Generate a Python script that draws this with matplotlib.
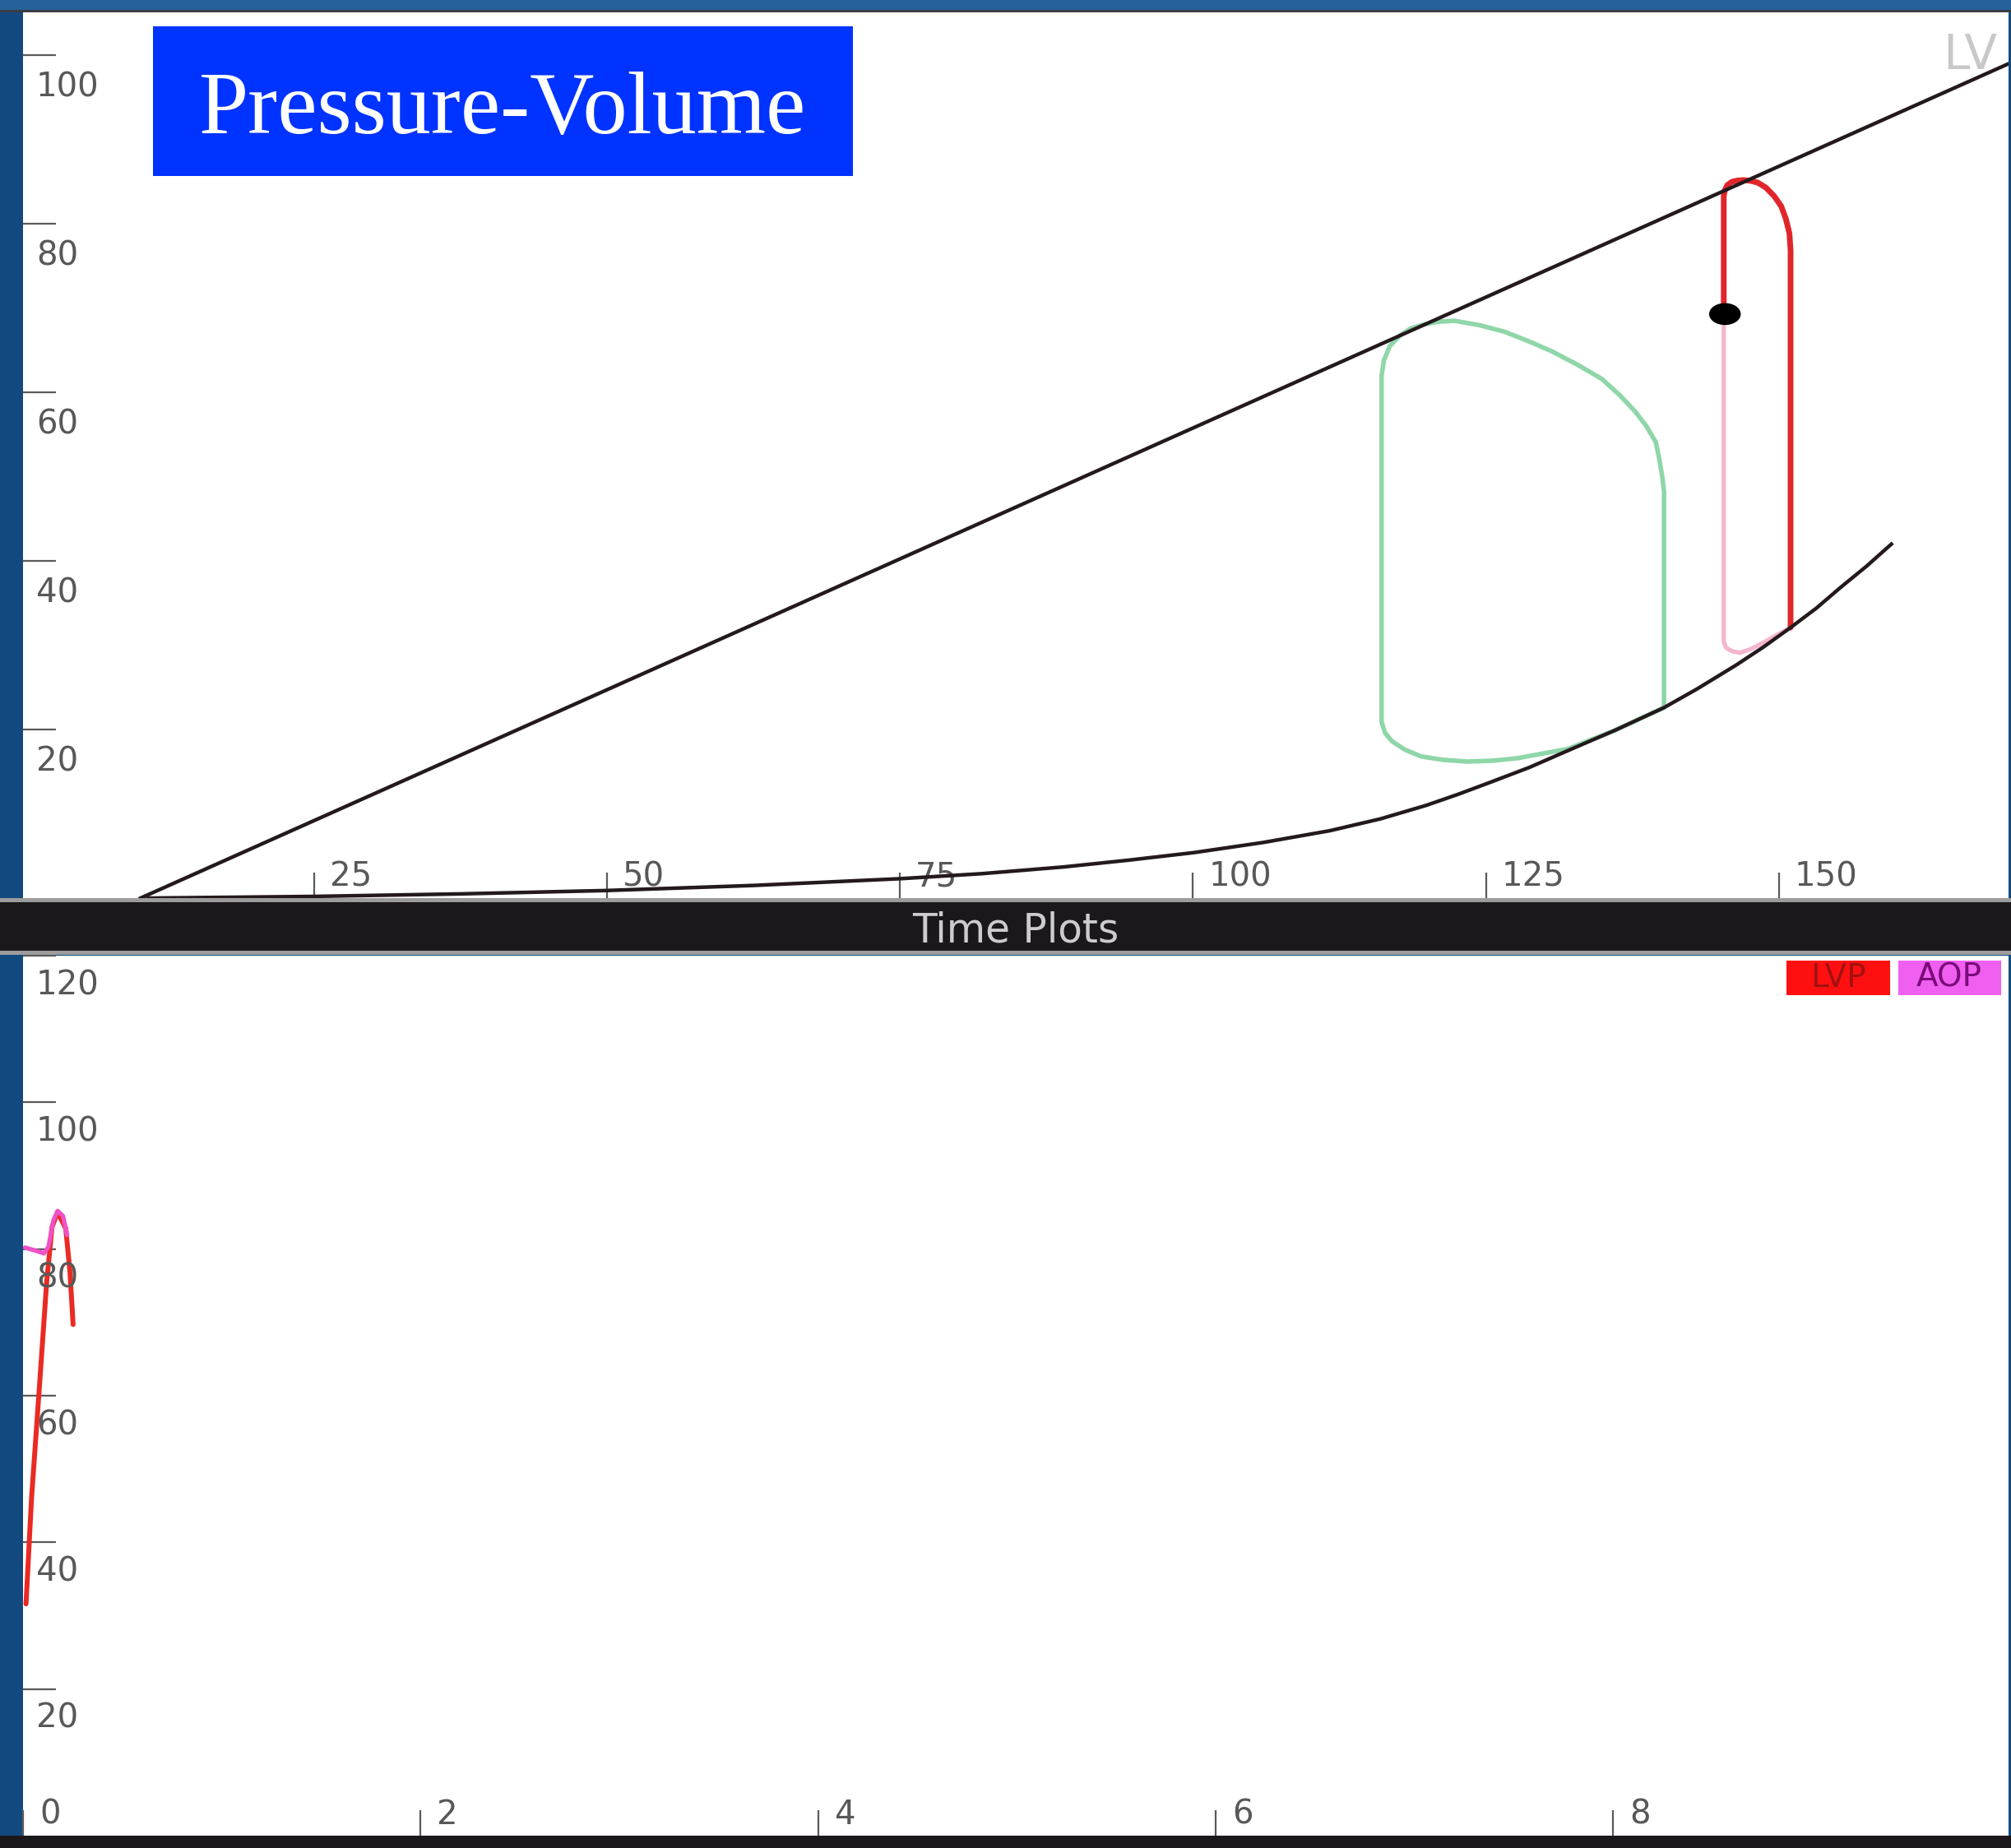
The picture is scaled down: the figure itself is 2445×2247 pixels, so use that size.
import matplotlib.pyplot as plt
from matplotlib.patches import Rectangle, Ellipse
from matplotlib.transforms import offset_copy

W, H, DPI = 2445, 2247, 100

# ---------------------------------------------------------------
# data
# ---------------------------------------------------------------
# pressure-volume loop panel (volume on x, pressure on y)
espvr_v = [10.2, 169.6]
espvr_p = [0.0, 99.0]

edpvr_v = [10.8, 18, 25, 37.5, 50, 62.5, 75, 82, 89, 94.5, 100.1, 106, 111.7,
           116, 119.9, 122.6, 125.3, 128.7, 132.0, 136.0, 140.2, 143.0, 146.3,
           148.7, 151.0, 153.2, 155.3, 157.5, 159.6]
edpvr_p = [0.0, 0.1, 0.2, 0.5, 0.9, 1.5, 2.3, 2.9, 3.7, 4.5, 5.4, 6.6, 8.0,
           9.4, 11.0, 12.3, 13.7, 15.5, 17.5, 19.9, 22.6, 24.8, 27.6,
           29.8, 32.1, 34.4, 36.9, 39.4, 42.0]

# previous steady-state loop (green)
green_v = [140.2, 140.2, 140.2, 140.05, 139.8, 139.5, 138.7, 137.7, 136.4, 134.9,
           132.8, 130.6, 128.6, 126.6, 124.4, 122.3, 121.0, 119.8, 118.6, 117.7,
           116.8, 116.3, 116.1, 116.1, 116.1, 116.4, 117.0, 118.1, 119.5, 121.4,
           123.4, 125.6, 127.7, 132.0, 136.0, 140.2]
green_p = [22.6, 46.3, 48.3, 50.0, 52.1, 54.1, 56.0, 57.8, 59.7, 61.6,
           63.3, 64.9, 66.1, 67.2, 68.0, 68.5, 68.4, 68.1, 67.6, 66.8,
           65.5, 63.8, 62.0, 60.0, 20.9, 19.6, 18.6, 17.6, 16.8, 16.4,
           16.2, 16.3, 16.6, 17.7, 19.9, 22.6]

# current beat (red) and the older part of the trace (pink)
red_v = [151.0, 151.0, 150.9, 150.6, 150.2, 149.6, 148.9, 148.2, 147.6, 147.0,
         146.5, 146.0, 145.6, 145.4, 145.3, 145.3]
red_p = [32.1, 76.9, 78.9, 80.6, 82.1, 83.3, 84.3, 84.9, 85.1, 85.2,
         85.15, 85.0, 84.6, 84.0, 83.3, 69.3]
pink_v = [145.3, 145.3, 145.5, 146.0, 146.7, 147.7, 148.8, 149.8, 150.9]
pink_p = [69.3, 30.4, 29.7, 29.3, 29.1, 29.6, 30.4, 31.2, 32.0]

dot_v, dot_p = 145.4, 69.3

pv_xlim = (0.17, 169.6)
pv_ylim = (0.0, 105.1)
pv_xticks = [25, 50, 75, 100, 125, 150]
pv_yticks = [20, 40, 60, 80, 100]

# time plot panel
lvp_t = [0.015, 0.043, 0.084, 0.119, 0.146, 0.174, 0.215, 0.236, 0.252]
lvp_p = [31.6, 46.1, 61.8, 75.5, 83.0, 85.0, 82.8, 76.9, 69.7]
aop_t = [0.010, 0.06, 0.105, 0.128, 0.153, 0.174, 0.201, 0.222]
aop_p = [80.2, 79.8, 79.4, 80.3, 83.9, 85.2, 84.5, 81.9]

tp_xlim = (0.007, 9.99)
tp_ylim = (0.0, 120.0)
tp_xticks = [0, 2, 4, 6, 8]
tp_yticks = [20, 40, 60, 80, 100, 120]


# ---------------------------------------------------------------
# helpers (pixel -> figure fraction)
# ---------------------------------------------------------------
def fx(px):
    return px / W


def fy(py):
    return 1 - py / H


def box(fig, x0, y0, x1, y1, color, z=0):
    fig.patches.append(Rectangle((fx(x0), fy(y1)), fx(x1) - fx(x0), fy(y0) - fy(y1),
                                 transform=fig.transFigure, facecolor=color,
                                 edgecolor='none', zorder=z))


TICK_COLOR = '#5a5a5a'
LABEL_KW = dict(fontsize=29, color='#585858', family='DejaVu Sans')


def style_axis(ax, fig, xticks, yticks, xlen, ylen, xl_off, yl_off):
    for s in ax.spines.values():
        s.set_visible(False)
    ax.set_xticks(xticks)
    ax.set_yticks(yticks)
    ax.tick_params(axis='x', direction='in', length=xlen, width=1.6, color=TICK_COLOR,
                   labelbottom=False)
    ax.tick_params(axis='y', direction='in', length=ylen, width=1.6, color=TICK_COLOR,
                   labelleft=False)
    xt = offset_copy(ax.get_xaxis_transform(), fig=fig, x=xl_off[0], y=xl_off[1], units='dots')
    for v in xticks:
        ax.text(v, 0, str(v), transform=xt, ha='left', va='baseline', **LABEL_KW)
    yt = offset_copy(ax.get_yaxis_transform(), fig=fig, x=yl_off[0], y=yl_off[1], units='dots')
    for v in yticks:
        ax.text(0, v, str(v), transform=yt, ha='left', va='top', **LABEL_KW)


fig = plt.figure(figsize=(W / DPI, H / DPI), dpi=DPI, facecolor='#124a80')

# slide frame pieces
box(fig, 0, 0, W, 12, '#24619b')
box(fig, 0, 12, W, 15, '#3a3d42')
box(fig, 0, 1092, W, 1161, '#9c9c9c')
box(fig, 0, 1097, W, 1156, '#1b181c')
box(fig, 0, 2232, W, H, '#1b181c')

# ---------------------------------------------------------------
# pressure-volume panel
# ---------------------------------------------------------------
ax1 = fig.add_axes([fx(28), fy(1092), fx(2442) - fx(28), (1092 - 15) / H])
ax1.set_facecolor('white')
ax1.set_xlim(pv_xlim)
ax1.set_ylim(pv_ylim)

ax1.plot(green_v, green_p, color='#8fd6a8', lw=4.0, solid_capstyle='round',
         solid_joinstyle='round', zorder=2)
ax1.plot(pink_v, pink_p, color='#f4b6cf', lw=3.8, solid_capstyle='round',
         solid_joinstyle='round', zorder=2)
ax1.plot(red_v, red_p, color='#e0262b', lw=5.0, solid_capstyle='round',
         solid_joinstyle='round', zorder=3)
ax1.plot(espvr_v, espvr_p, color='#24191c', lw=3.2, zorder=4)
ax1.plot(edpvr_v, edpvr_p, color='#24191c', lw=3.2, solid_joinstyle='round', zorder=4)
ax1.add_patch(Ellipse((dot_v, dot_p), 2.7, 2.6, facecolor='black', edgecolor='none', zorder=5))

style_axis(ax1, fig, pv_xticks, pv_yticks, xlen=22, ylen=29,
           xl_off=(19, 15), yl_off=(16, -19))

ax1.text(1, 1, 'LV', transform=offset_copy(ax1.transAxes, fig=fig, x=-14, y=-69, units='dots'),
         ha='right', va='baseline', fontsize=42, color='#c8c8c8')

# title box on the slide
box(fig, 186, 32, 1037, 214, '#0033ff', z=5)
fig.text(fx(611), fy(162), 'Pressure-Volume', ha='center', va='baseline',
         fontsize=78, color='white', family='Liberation Serif', zorder=6)

# "Time Plots" header bar
fig.text(fx(1235), fy(1145), 'Time Plots', ha='center', va='baseline',
         fontsize=35, color='#cccccc', family='DejaVu Sans', zorder=6)

# ---------------------------------------------------------------
# time plot panel
# ---------------------------------------------------------------
ax2 = fig.add_axes([fx(28), fy(2232), fx(2442) - fx(28), (2232 - 1162) / H])
ax2.set_facecolor('white')
ax2.set_xlim(tp_xlim)
ax2.set_ylim(tp_ylim)

ax2.plot(lvp_t, lvp_p, color='#ea2a23', lw=4.3, solid_capstyle='round',
         solid_joinstyle='round', zorder=3)
ax2.plot(aop_t, aop_p, color='#f050c8', lw=3.8, solid_capstyle='round',
         solid_joinstyle='round', zorder=4)

style_axis(ax2, fig, tp_xticks, tp_yticks, xlen=22, ylen=29,
           xl_off=(20, 14), yl_off=(16, -16))

# legend chips
box(fig, 2172, 1168, 2298, 1210, '#ff1010', z=5)
box(fig, 2308, 1168, 2433, 1210, '#f060f0', z=5)
fig.text(fx(2235), fy(1189), 'LVP', ha='center', va='center', fontsize=28,
         color='#a31010', family='DejaVu Sans', zorder=6)
fig.text(fx(2370), fy(1189), 'AOP', ha='center', va='center', fontsize=28,
         color='#7a0a7a', family='DejaVu Sans', zorder=6)

fig.savefig('out.png', dpi=DPI, facecolor=fig.get_facecolor())
